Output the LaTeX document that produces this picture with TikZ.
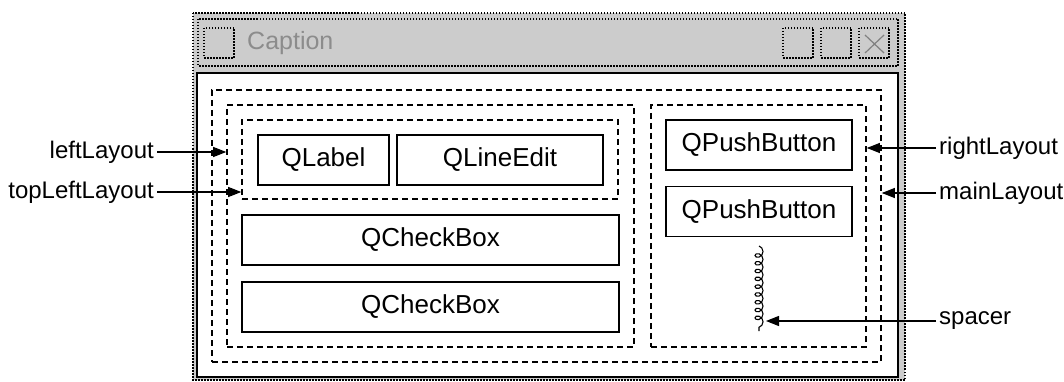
\documentclass[tikz,border=0pt]{standalone}
\usepackage{fontspec}
\setmainfont{Liberation Sans}
\usetikzlibrary{arrows.meta,positioning,calc,decorations.pathmorphing}

\begin{document}
\begin{tikzpicture}[x=1pt, y=-1pt,
  wd/.style={draw,line width=1.5pt,fill=white,inner sep=0pt,minimum height=50pt,font=\fontsize{26}{30}\selectfont},
  lay/.style={draw,line width=1.6pt,dash pattern=on 6pt off 4pt,inner sep=0pt},
  dots/.style={draw,line width=1.2pt,dash pattern=on 1.5pt off 1.5pt},
  lbl/.style={inner sep=3pt,font=\fontsize{24}{28}\selectfont},
  ptr/.style={line width=1.2pt,-{Triangle[length=13pt,width=10pt]}}]
  \useasboundingbox (0,0) rectangle (1064,382);
  % Window frame
  \filldraw[dots,fill=gray!40] (193,13) rectangle (905,380);
  \draw[dots] (198,19) rectangle (898,66);
  \draw[dots] (204,28) rectangle (234,58);
  \foreach \x in {783,821,859} \draw[dots] (\x,28) rectangle ++(30,30);
  \draw[gray,line width=1.2pt] (865,35) -- (884,53) (865,53) -- (884,35);
  \node[lbl,anchor=west,text=gray!90,inner sep=0pt,font=\fontsize{25}{30}\selectfont] (caption) at (247,43) {Caption};
  \filldraw[line width=2.8pt,fill=white] (197,73) rectangle (898,377);
  % Layouts
  \node[lay,minimum width=669pt,minimum height=272pt] (mainLayout) at (546.5,226) {};
  \node[lay,minimum width=407pt,minimum height=242pt] (leftLayout) at (430.5,226) {};
  \node[lay,minimum width=215pt,minimum height=242pt] (rightLayout) at (758.5,226) {};
  \node[lay,minimum width=376pt,minimum height=79pt] (topLeftLayout) at (430,159.5) {};
  % Widgets
  \node[wd,minimum width=131pt] (label) at (323.5,160) {QLabel};
  \node[wd,minimum width=206pt] (lineEdit) at (500,160) {QLineEdit};
  \node[wd,minimum width=377pt] (check1) at (430.5,240) {QCheckBox};
  \node[wd,minimum width=377pt] (check2) at (430.5,307) {QCheckBox};
  \node[wd,minimum width=186pt] (push1) at (759,145) {QPushButton};
  \node[wd,minimum width=186pt] (push2) at (759,211.5) {QPushButton};
  % Spacer
  \coordinate (sp1) at (759,246);
  \coordinate (sp2) at (759,331);
  \coordinate (spTip) at (766,321);
  \draw[line width=1.1pt,decorate,decoration={coil,aspect=0.9,amplitude=4pt,segment length=7.8pt}] (sp1) -- (sp2);
  % Labels
  \node[lbl,anchor=east] (leftLbl) at (157,152) {leftLayout};
  \node[lbl,anchor=east] (topLeftLbl) at (157,192) {topLeftLayout};
  \node[lbl,anchor=west] (rightLbl) at (936,148) {rightLayout};
  \node[lbl,anchor=west] (mainLbl) at (936,193) {mainLayout};
  \node[lbl,anchor=west] (spacerLbl) at (936,321) {spacer};
  \draw[ptr] (leftLbl.east) -- (leftLbl.east -| leftLayout.west);
  \draw[ptr] (topLeftLbl.east) -- (topLeftLbl.east -| topLeftLayout.west);
  \draw[ptr] (rightLbl.west) -- (rightLbl.west -| rightLayout.east);
  \draw[ptr] (mainLbl.west) -- (mainLbl.west -| mainLayout.east);
  \draw[ptr] (spacerLbl.west) -- (spTip);
\end{tikzpicture}
\end{document}
